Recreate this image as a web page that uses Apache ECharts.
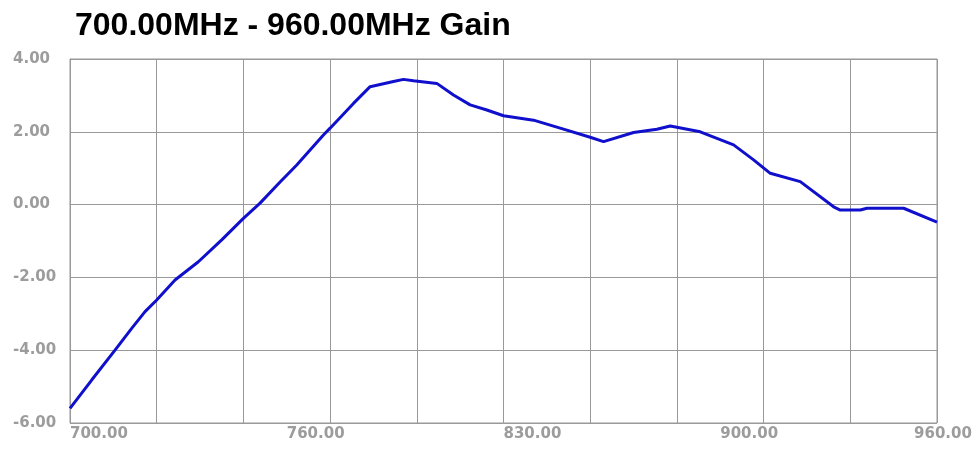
<!DOCTYPE html>
<html>
<head>
<meta charset="utf-8">
<script src="https://cdn.jsdelivr.net/npm/echarts@6/dist/echarts.min.js"></script>
<style>
html,body{margin:0;padding:0;background:#fff;}
#c{width:978px;height:450px;}
</style>
</head>
<body>
<div id="c"></div>
<script>
var titleText = '700.00MHz - 960.00MHz Gain';
var freqs = [700, 706.5, 713.5, 718.5, 722.5, 726, 731.5, 738.5, 745.5, 752, 757, 763, 768, 776, 778, 785, 790, 793, 797, 800, 803, 810, 815, 820, 825, 830, 839, 847, 856, 860, 869, 876, 880, 889, 899, 905, 910, 919, 929, 931, 937, 939, 950, 960];
var gains = [-5.60, -4.82, -4.0, -3.40, -2.94, -2.62, -2.07, -1.57, -0.97, -0.38, 0.04, 0.62, 1.09, 1.91, 2.1, 2.78, 3.24, 3.30, 3.38, 3.44, 3.40, 3.33, 3.01, 2.74, 2.60, 2.44, 2.32, 2.10, 1.85, 1.73, 1.98, 2.07, 2.16, 2.00, 1.64, 1.23, 0.86, 0.63, -0.06, -0.15, -0.15, -0.10, -0.10, -0.48];
var xGridValues = [700, 726, 752, 778, 804, 830, 856, 882, 908, 934, 960];
var xLabelPos = [700, 765, 830, 895, 960];
var xLabelText = ['700.00', '760.00', '830.00', '900.00', '960.00'];
var yMin = -6, yMax = 4, yStep = 2;

var data = freqs.map(function (f, i) { return [f, gains[i]]; });
var labelFont = { color: '#9c9c9c', fontFamily: 'DejaVu Sans', fontWeight: 'bold', fontSize: 15 };

var chart = echarts.init(document.getElementById('c'), null, { renderer: 'canvas' });
chart.setOption({
  backgroundColor: '#ffffff',
  animation: false,
  title: {
    text: titleText,
    left: 70, top: 5,
    textStyle: { color: '#000', fontFamily: 'Liberation Sans', fontWeight: 'bold', fontSize: 32 }
  },
  grid: { left: 70, right: 41, top: 59, bottom: 27, show: true, borderColor: '#999', borderWidth: 1, containLabel: false },
  xAxis: {
    type: 'value', min: 700, max: 960,
    axisLine: { show: true, lineStyle: { color: '#999', width: 1 } },
    axisTick: { show: false, customValues: xGridValues },
    splitLine: { show: true, lineStyle: { color: '#999', width: 1 } },
    axisLabel: Object.assign({
      customValues: xLabelPos,
      align: 'left',
      alignMaxLabel: 'center',
      margin: 4,
      formatter: function (v) {
        var i = xLabelPos.indexOf(v);
        var t = i >= 0 ? xLabelText[i] : '';
        return i === xLabelPos.length - 1 ? '{r|' + t + '}' : t;
      },
      rich: { r: Object.assign({ padding: [0, 0, 0, 12] }, labelFont) }
    }, labelFont)
  },
  yAxis: {
    type: 'value', min: yMin, max: yMax, interval: yStep,
    axisLine: { show: true, lineStyle: { color: '#999', width: 1 } },
    axisTick: { show: false },
    splitLine: { show: true, lineStyle: { color: '#999', width: 1 } },
    axisLabel: Object.assign({
      margin: 57,
      align: 'left',
      padding: [0, 0, 9, 0],
      formatter: function (v) { return v.toFixed(2); }
    }, labelFont)
  },
  series: [{
    type: 'line',
    data: data,
    showSymbol: false,
    symbol: 'none',
    smooth: false,
    lineStyle: { color: '#1010cc', width: 3 },
    itemStyle: { color: '#1010cc' }
  }]
});
</script>
</body>
</html>
